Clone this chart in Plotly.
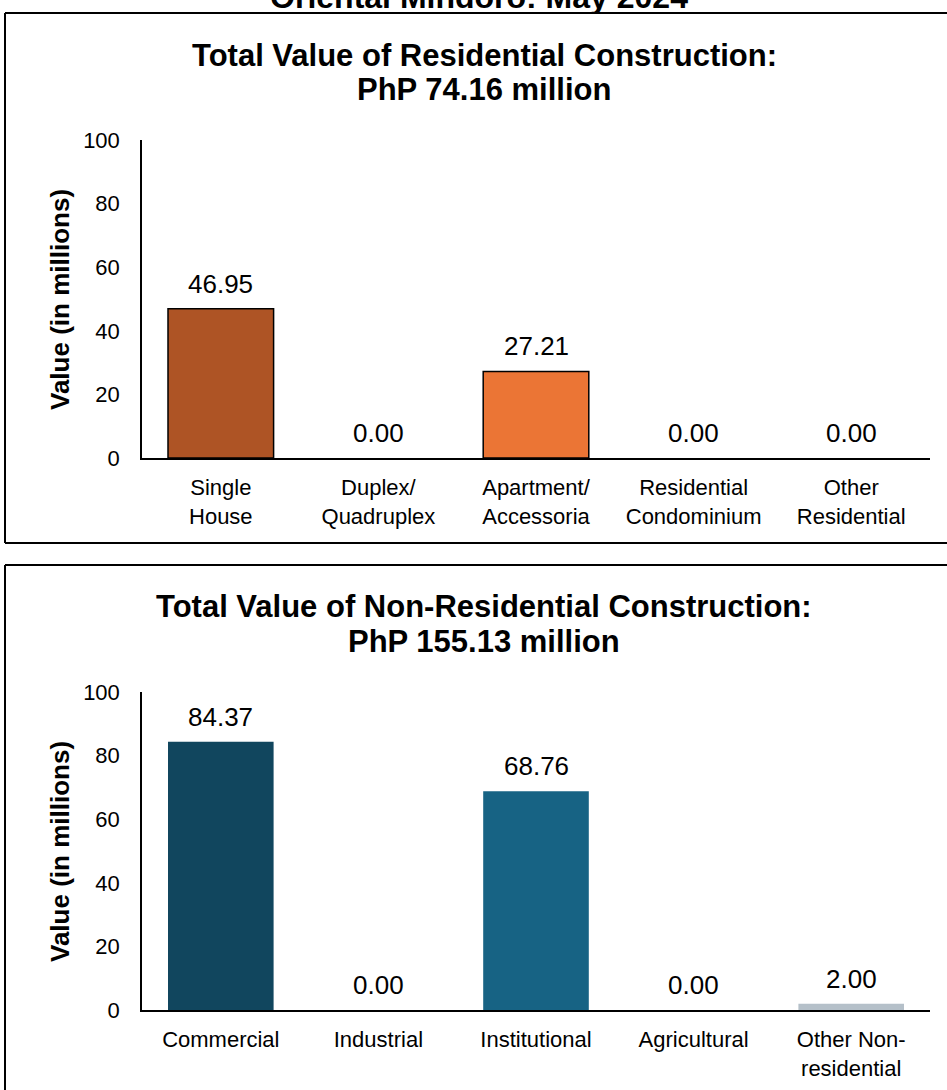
import plotly.graph_objects as go

W, H = 947, 1090

# residential construction, PhP millions
res_labels = ["Single<br>House", "Duplex/<br>Quadruplex", "Apartment/<br>Accessoria",
              "Residential<br>Condominium", "Other<br>Residential"]
res_values = [46.95, 0.00, 27.21, 0.00, 0.00]
res_colors = ["#AE5425", "#AE5425", "#EB7535", "#EB7535", "#EB7535"]

# non-residential construction, PhP millions
nonres_labels = ["Commercial", "Industrial", "Institutional", "Agricultural",
                 "Other Non-<br>residential"]
nonres_values = [84.37, 0.00, 68.76, 0.00, 2.00]
nonres_colors = ["#11465E", "#11465E", "#176384", "#176384", "#B5C0C9"]

res_title = ["Total Value of Residential Construction:", "PhP 74.16 million"]
nonres_title = ["Total Value of Non-Residential Construction:", "PhP 155.13 million"]
top_title = "Oriental Mindoro: May 2024"

FONT = "Liberation Sans, Arial, sans-serif"


def px_x(x):
    return x / W


def px_y(y):
    return 1 - y / H


fig = go.Figure()

fig.add_trace(go.Bar(x=res_labels, y=res_values, marker_color=res_colors,
                     marker_line_color="black",
                     marker_line_width=[1.5 if v > 0 else 0 for v in res_values],
                     xaxis="x", yaxis="y", showlegend=False, hoverinfo="x+y"))
fig.add_trace(go.Bar(x=nonres_labels, y=nonres_values, marker_color=nonres_colors,
                     marker_line_width=0,
                     xaxis="x2", yaxis="y2", showlegend=False, hoverinfo="x+y"))

# chart title that is cut off at the top edge of the page (clipped to its own strip)
fig.add_trace(go.Scatter(x=[479], y=[12.7], mode="text", text=[f"<b>{top_title}</b>"],
                         textposition="middle center", cliponaxis=True,
                         textfont=dict(size=32, color="black", family=FONT),
                         xaxis="x3", yaxis="y3", showlegend=False, hoverinfo="skip"))

annotations = []
for lab, v in zip(res_labels, res_values):
    annotations.append(dict(x=lab, y=v, xref="x", yref="y", text=f"{v:.2f}",
                            showarrow=False, yanchor="middle", yshift=25,
                            font=dict(size=26, color="black", family=FONT)))
for lab, v in zip(nonres_labels, nonres_values):
    annotations.append(dict(x=lab, y=v, xref="x2", yref="y2", text=f"{v:.2f}",
                            showarrow=False, yanchor="middle", yshift=25,
                            font=dict(size=26, color="black", family=FONT)))

# panel titles
for lines, y0 in ((res_title, 55), (nonres_title, 606)):
    for i, line in enumerate(lines):
        annotations.append(dict(x=px_x(484), y=px_y(y0 + 35 * i), xref="paper", yref="paper",
                                text=f"<b>{line}</b>", showarrow=False,
                                xanchor="center", yanchor="middle",
                                font=dict(size=31, color="black", family=FONT)))
for yc in (299, 851):
    annotations.append(dict(x=px_x(60), y=px_y(yc), xref="paper", yref="paper",
                            text="<b>Value (in millions)</b>", textangle=-90,
                            showarrow=False, xanchor="center", yanchor="middle",
                            font=dict(size=26, color="black", family=FONT)))

# panel frames (right and bottom sides run off the page)
frame = dict(color="black", width=2)
shapes = [
    dict(type="line", xref="paper", yref="paper", x0=px_x(5), x1=1, y0=px_y(13), y1=px_y(13), line=frame),
    dict(type="line", xref="paper", yref="paper", x0=px_x(5), x1=1, y0=px_y(543), y1=px_y(543), line=frame),
    dict(type="line", xref="paper", yref="paper", x0=px_x(5), x1=px_x(5), y0=px_y(13), y1=px_y(543), line=frame),
    dict(type="line", xref="paper", yref="paper", x0=px_x(5), x1=1, y0=px_y(565), y1=px_y(565), line=frame),
    dict(type="line", xref="paper", yref="paper", x0=px_x(5), x1=px_x(5), y0=px_y(565), y1=0, line=frame),
]

xdom = [px_x(142), px_x(930)]
xaxis_common = dict(domain=xdom, showline=True, linecolor="black", linewidth=1.5,
                    showgrid=False, ticks="", ticklabelstandoff=9, automargin=False,
                    tickfont=dict(size=22, color="black", family=FONT), fixedrange=True)
yaxis_common = dict(range=[0, 100], dtick=20, showline=True, linecolor="black", linewidth=1.5,
                    showgrid=False, zeroline=False, ticks="", ticklabelstandoff=16, automargin=False,
                    tickfont=dict(size=22, color="black", family=FONT), fixedrange=True)
hidden = dict(visible=False, showgrid=False, zeroline=False, fixedrange=True, automargin=False)

fig.update_layout(
    width=W, height=H,
    margin=dict(l=0, r=0, t=0, b=0, pad=0, autoexpand=False),
    paper_bgcolor="white", plot_bgcolor="white",
    showlegend=False,
    bargap=0.33,
    font=dict(family=FONT, color="black"),
    xaxis=dict(**xaxis_common, anchor="y"),
    yaxis=dict(**yaxis_common, domain=[px_y(458), px_y(140)], anchor="x"),
    xaxis2=dict(**xaxis_common, anchor="y2"),
    yaxis2=dict(**yaxis_common, domain=[px_y(1010), px_y(692)], anchor="x2"),
    xaxis3=dict(**hidden, domain=[0, 1], range=[0, W], anchor="y3"),
    yaxis3=dict(**hidden, domain=[px_y(13), 1], range=[0, 13], anchor="x3"),
    annotations=annotations,
    shapes=shapes,
)

fig.write_html("out.html", config={"displayModeBar": False},
               post_script="document.body.style.margin='0';document.body.style.overflow='hidden';")
